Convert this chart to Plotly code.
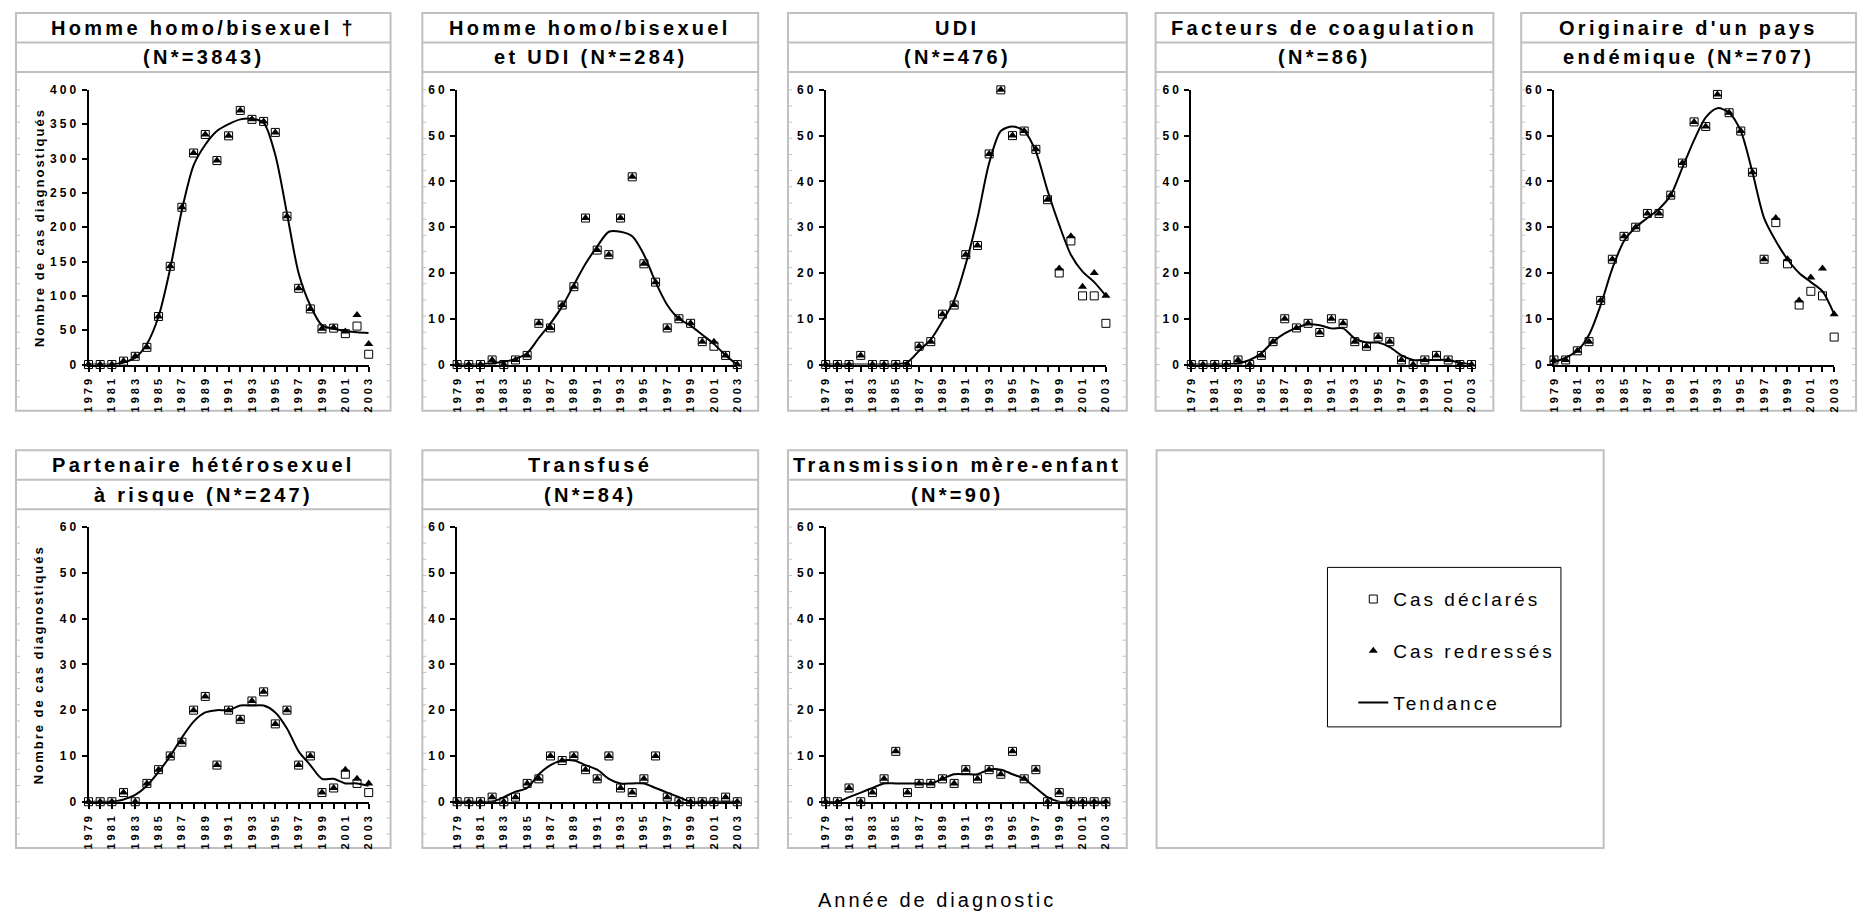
import numpy as np
import plotly.graph_objects as go

PAGE_W, PAGE_H = 1866, 919
OFF = 8  # default page body margin
W, H = PAGE_W - OFF, PAGE_H - OFF
FONT = "Liberation Sans, Arial, sans-serif"

# ---------------- data ----------------
years = list(range(1979, 2004))
year_labels = [str(y) if (y - 1979) % 2 == 0 else "" for y in years]

title_line1 = ["Homme homo/bisexuel †", "Homme homo/bisexuel", "UDI",
               "Facteurs de coagulation", "Originaire d'un pays",
               "Partenaire hétérosexuel", "Transfusé", "Transmission mère-enfant"]
title_line2 = ["(N*=3843)", "et UDI (N*=284)", "(N*=476)", "(N*=86)",
               "endémique (N*=707)", "à risque (N*=247)", "(N*=84)", "(N*=90)"]

y_max = [400, 60, 60, 60, 60, 60, 60, 60]
y_major = [50, 10, 10, 10, 10, 10, 10, 10]

# Homme homo/bisexuel
homo_declares = [0, 0, 0, 5, 12, 25, 70, 143, 229, 308, 335, 297, 333, 370, 357, 354, 338, 216, 111, 81, 52, 53, 45, 56, 15]
homo_redresses = [0, 0, 0, 5, 12, 25, 70, 143, 229, 308, 335, 297, 333, 370, 357, 354, 338, 216, 111, 81, 52, 54, 48, 72, 30]
homo_tendance = [0, 0, 0, 3, 10, 30, 70, 140, 225, 290, 320, 340, 350, 357, 358, 352, 305, 220, 133, 86, 57, 52, 49, 47, 46]

# Homme homo/bisexuel et UDI
homo_udi_declares = [0, 0, 0, 1, 0, 1, 2, 9, 8, 13, 17, 32, 25, 24, 32, 41, 22, 18, 8, 10, 9, 5, 4, 2, 0]
homo_udi_redresses = [0, 0, 0, 1, 0, 1, 2, 9, 8, 13, 17, 32, 25, 24, 32, 41, 22, 18, 8, 10, 9, 5, 5, 2, 0]
homo_udi_tendance = [0, 0, 0, 0.3, 0.6, 1.2, 2.5, 5.8, 9, 12.7, 17.4, 22, 25.8, 29, 29, 28, 24, 18, 13, 10, 8.5, 6.5, 4.5, 2, 0]

# UDI
udi_declares = [0, 0, 0, 2, 0, 0, 0, 0, 4, 5, 11, 13, 24, 26, 46, 60, 50, 51, 47, 36, 20, 27, 15, 15, 9]
udi_redresses = [0, 0, 0, 2, 0, 0, 0, 0, 4, 5, 11, 13, 24, 26, 46, 60, 50, 51, 47, 36, 21, 28, 17, 20, 15]
udi_tendance = [0, 0, 0, 0, 0, 0, 0, 0.5, 3, 5.5, 9.5, 14, 22, 32, 44, 51, 52, 51, 46.5, 38, 30.5, 24, 20.3, 18, 15]

# Facteurs de coagulation
coag_declares = [0, 0, 0, 0, 1, 0, 2, 5, 10, 8, 9, 7, 10, 9, 5, 4, 6, 5, 1, 0, 1, 2, 1, 0, 0]
coag_redresses = [0, 0, 0, 0, 1, 0, 2, 5, 10, 8, 9, 7, 10, 9, 5, 4, 6, 5, 1, 0, 1, 2, 1, 0, 0]
coag_tendance = [0, 0, 0, 0, 0.3, 1, 2.5, 5, 6.8, 8, 8.8, 8.6, 7.9, 7.9, 5.7, 4.8, 4.8, 3.8, 2, 1, 1, 1, 1, 0.4, 0]

# Originaire d'un pays endémique
endem_declares = [1, 1, 3, 5, 14, 23, 28, 30, 33, 33, 37, 44, 53, 52, 59, 55, 51, 42, 23, 31, 22, 13, 16, 15, 6]
endem_redresses = [1, 1, 3, 5, 14, 23, 28, 30, 33, 33, 37, 44, 53, 52, 59, 55, 51, 42, 23, 32, 23, 14, 19, 21, 11]
endem_tendance = [0.5, 1.5, 3, 6.5, 13, 21, 27, 30, 32, 34, 37, 43, 49, 54, 56, 55, 51, 42, 32, 27, 23, 20, 18, 16, 11]

# Partenaire hétérosexuel à risque
hetero_declares = [0, 0, 0, 2, 0, 4, 7, 10, 13, 20, 23, 8, 20, 18, 22, 24, 17, 20, 8, 10, 2, 3, 6, 4, 2]
hetero_redresses = [0, 0, 0, 2, 0, 4, 7, 10, 13, 20, 23, 8, 20, 18, 22, 24, 17, 20, 8, 10, 2, 3, 7, 5, 4]
hetero_tendance = [0, 0, 0, 0.5, 1.5, 3.5, 6.5, 10, 14, 17.5, 19.5, 20, 20, 21, 21, 21, 19.5, 16, 11, 8, 5, 5, 4, 4, 3.5]

# Transfusé
transf_declares = [0, 0, 0, 1, 0, 1, 4, 5, 10, 9, 10, 7, 5, 10, 3, 2, 5, 10, 1, 0, 0, 0, 0, 1, 0]
transf_redresses = [0, 0, 0, 1, 0, 1, 4, 5, 10, 9, 10, 7, 5, 10, 3, 2, 5, 10, 1, 0, 0, 0, 0, 1, 0]
transf_tendance = [0, 0, 0, 0, 1, 2.2, 3, 6, 8, 9, 9, 8, 7, 5, 4, 4, 4, 3, 2, 1, 0, 0, 0, 0, 0]

# Transmission mère-enfant
mere_declares = [0, 0, 3, 0, 2, 5, 11, 2, 4, 4, 5, 4, 7, 5, 7, 6, 11, 5, 7, 0, 2, 0, 0, 0, 0]
mere_redresses = [0, 0, 3, 0, 2, 5, 11, 2, 4, 4, 5, 4, 7, 5, 7, 6, 11, 5, 7, 0, 2, 0, 0, 0, 0]
mere_tendance = [0, 0, 1, 2, 3, 4, 4, 4, 4, 4, 5, 6, 6, 6, 7, 7, 6, 5, 3, 1, 0, 0, 0, 0, 0]

series_declares = [homo_declares, homo_udi_declares, udi_declares, coag_declares,
                   endem_declares, hetero_declares, transf_declares, mere_declares]
series_redresses = [homo_redresses, homo_udi_redresses, udi_redresses, coag_redresses,
                    endem_redresses, hetero_redresses, transf_redresses, mere_redresses]
series_tendance = [homo_tendance, homo_udi_tendance, udi_tendance, coag_tendance,
                   endem_tendance, hetero_tendance, transf_tendance, mere_tendance]

legend_names = ["Cas déclarés", "Cas redressés", "Tendance"]
y_title = "Nombre de cas diagnostiqués"
x_title = "Année de diagnostic"

# ---------------- layout geometry (page pixels) ----------------
col_box = [(10, 387), (419, 757), (787, 1128), (1157, 1497), (1525, 1862)]
col_axis = [83, 454, 825, 1193, 1558]
X_SPAN = 282
row_box = [(6, 410), (450, 854)]
row_plot = [(84, 363), (528, 807)]
panel_pos = [(0, 0), (0, 1), (0, 2), (0, 3), (0, 4), (1, 0), (1, 1), (1, 2)]
GRAY = "#c0c0c0"


def px(x):
    return (x - OFF) / W


def py(y):
    return 1 - (y - OFF) / H


def sp(text, ls):
    return f"<span style='letter-spacing:{ls}px'>{text}</span>"


fig = go.Figure()
shapes = []
annotations = []

for i, (r, c) in enumerate(panel_pos):
    n = "" if i == 0 else str(i + 1)
    xa, ya = "x" + n, "y" + n
    first = i == 0
    fig.add_trace(go.Scatter(
        x=years, y=series_declares[i], mode="markers", xaxis=xa, yaxis=ya,
        name=sp(legend_names[0], 3), legendgroup="d", showlegend=first,
        marker=dict(symbol="square", size=8, color="white", line=dict(color="black", width=1)),
        cliponaxis=False))
    fig.add_trace(go.Scatter(
        x=years, y=series_redresses[i], mode="markers", xaxis=xa, yaxis=ya,
        name=sp(legend_names[1], 3), legendgroup="r", showlegend=first,
        marker=dict(symbol="triangle-up", size=8, color="black", line=dict(width=0)),
        cliponaxis=False))
    fig.add_trace(go.Scatter(
        x=years, y=series_tendance[i], mode="lines", xaxis=xa, yaxis=ya,
        name=sp(legend_names[2], 3), legendgroup="t", showlegend=first,
        line=dict(color="black", width=2, shape="spline", smoothing=0.8),
        cliponaxis=False))

    x0 = col_axis[c]
    x1 = x0 + X_SPAN
    ptop, pbot = row_plot[r]
    fig.update_layout(**{
        "xaxis" + n: dict(
            domain=[px(x0), px(x1)], range=[1979, 2003], anchor=ya,
            tickvals=years, ticktext=["<b>" + sp(t, 3) + "</b>" if t else "" for t in year_labels],
            tickangle=-90, ticks="outside", ticklen=5, tickwidth=1.5, tickcolor="black",
            showline=True, linecolor="black", linewidth=2, showgrid=False, zeroline=False,
            tickfont=dict(family=FONT, size=11, color="black"),
            fixedrange=True),
        "yaxis" + n: dict(
            domain=[py(pbot), py(ptop)], range=[0, y_max[i]], anchor=xa,
            tickvals=list(range(0, y_max[i] + 1, y_major[i])),
            ticktext=["<b>" + sp(str(v), 3) + "</b>" for v in range(0, y_max[i] + 1, y_major[i])],
            ticks="outside", ticklen=5, tickwidth=1.5, tickcolor="black",
            showline=True, linecolor="black", linewidth=2, showgrid=False, zeroline=False,
            tickfont=dict(family=FONT, size=12, color="black"),
            fixedrange=True),
    })

    # panel frame and title separators
    bl, br = col_box[c]
    bt, bb = row_box[r]
    shapes.append(dict(type="rect", xref="paper", yref="paper", x0=px(bl), x1=px(br),
                       y0=py(bb), y1=py(bt), line=dict(color=GRAY, width=2), layer="below"))
    for ly in (bt + 30, bt + 60):
        shapes.append(dict(type="line", xref="paper", yref="paper", x0=px(bl), x1=px(br),
                           y0=py(ly), y1=py(ly), line=dict(color=GRAY, width=2), layer="below"))
    # small grey ticks on the frame borders
    step = (pbot - ptop) / 17
    k = 0
    while ptop + k * step < bb - 6:
        yy = ptop + k * step
        shapes.append(dict(type="line", xref="paper", yref="paper", x0=px(bl), x1=px(bl + 4),
                           y0=py(yy), y1=py(yy), line=dict(color=GRAY, width=1), layer="below"))
        shapes.append(dict(type="line", xref="paper", yref="paper", x0=px(br - 4), x1=px(br),
                           y0=py(yy), y1=py(yy), line=dict(color=GRAY, width=1), layer="below"))
        k += 1

    cx = (bl + br) / 2
    annotations.append(dict(text="<b>" + sp(title_line1[i], 3.3) + "</b>", x=px(cx), y=py(bt + 15),
                            xref="paper", yref="paper", showarrow=False, xanchor="center",
                            yanchor="middle", font=dict(family=FONT, size=20, color="black")))
    annotations.append(dict(text="<b>" + sp(title_line2[i], 3.3) + "</b>", x=px(cx), y=py(bt + 45),
                            xref="paper", yref="paper", showarrow=False, xanchor="center",
                            yanchor="middle", font=dict(family=FONT, size=20, color="black")))
    if c == 0:
        annotations.append(dict(text="<b>" + sp(y_title, 2) + "</b>", x=px(33),
                                y=py((ptop + pbot) / 2),
                                xref="paper", yref="paper", showarrow=False, textangle=-90,
                                xanchor="center", yanchor="middle",
                                font=dict(family=FONT, size=13, color="black")))

# legend panel
shapes.append(dict(type="rect", xref="paper", yref="paper", x0=px(1158), x1=px(1608),
                   y0=py(854), y1=py(450), line=dict(color=GRAY, width=2), layer="below"))
shapes.append(dict(type="rect", xref="paper", yref="paper", x0=px(1330), x1=px(1565),
                   y0=py(731), y1=py(569), line=dict(color="black", width=1), layer="below"))

annotations.append(dict(text=sp(x_title, 3), x=px(937), y=py(907), xref="paper", yref="paper",
                        showarrow=False, xanchor="center", yanchor="middle",
                        font=dict(family=FONT, size=20, color="black")))

fig.update_layout(
    width=W, height=H, margin=dict(l=0, r=0, t=0, b=0),
    paper_bgcolor="white", plot_bgcolor="white",
    shapes=shapes, annotations=annotations,
    showlegend=True,
    legend=dict(x=px(1356), y=py(582), xanchor="left", yanchor="top",
                bgcolor="rgba(0,0,0,0)", borderwidth=0, traceorder="grouped",
                tracegroupgap=24, font=dict(family=FONT, size=19, color="black")),
)

fig.write_html("out.html")
